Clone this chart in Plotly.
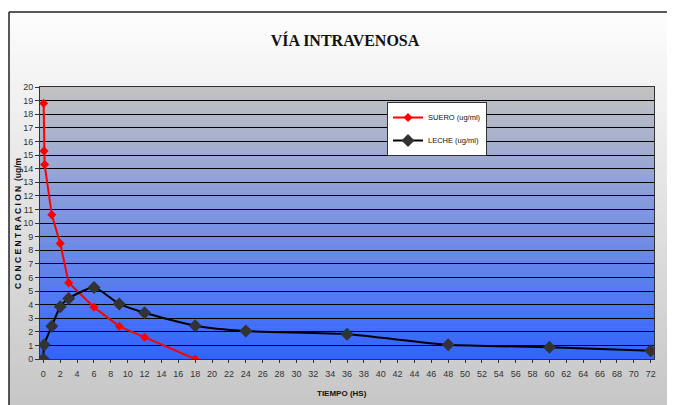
import plotly.graph_objects as go

W, H = 675, 405
OFF = 8  # page body margin
# reference pixel geometry of the plot area
RL, RT, RR, RB = 40, 87, 654, 359
L, T = RL - OFF, RT - OFF
R, B = W - (RR - OFF), H - (RB - OFF)

suero_t = [0.03, 0.08, 0.15, 1, 2, 3, 6, 9, 12, 18]
suero_c = [18.8, 15.3, 14.3, 10.6, 8.5, 5.6, 3.8, 2.4, 1.6, 0.0]

leche_t = [0, 0.1, 1, 2, 3, 6, 9, 12, 18, 24, 36, 48, 60, 72]
leche_c = [0.0, 1.05, 2.4, 3.85, 4.45, 5.25, 4.05, 3.4, 2.45, 2.05, 1.82, 1.05, 0.87, 0.6]

x_ticks = list(range(0, 73, 2))
y_ticks = list(range(0, 21, 1))

pw, ph = RR - RL, RB - RT
def px(x):
    return (x - RL) / pw
def py(y):
    return (RB - y) / ph

def lerp(c1, c2, f):
    return "rgb(%d,%d,%d)" % tuple(round(a + (b - a) * f) for a, b in zip(c1, c2))

shapes = []
# outer frame gradient (white -> light grey)
n = 40
top_px, bot_px = 12, H + 10
for i in range(n):
    y0 = top_px + (bot_px - top_px) * i / n
    y1 = top_px + (bot_px - top_px) * (i + 1) / n
    shapes.append(dict(type="rect", xref="paper", yref="paper", layer="below",
                       x0=px(9), x1=px(W + 10), y0=py(y1 + 0.5), y1=py(y0),
                       fillcolor=lerp((252, 252, 252), (198, 198, 198), i / (n - 1)),
                       line=dict(width=0)))
shapes.append(dict(type="line", xref="paper", yref="paper", layer="below",
                   x0=px(9), x1=px(9), y0=py(H + 10), y1=py(12), line=dict(color="#222", width=1.5)))
shapes.append(dict(type="line", xref="paper", yref="paper", layer="below",
                   x0=px(9), x1=px(W + 10), y0=py(12), y1=py(12), line=dict(color="#222", width=1.5)))
# plot area gradient (grey -> blue)
m = 60
for i in range(m):
    shapes.append(dict(type="rect", xref="x domain", yref="y domain", layer="below",
                       x0=0, x1=1, y0=1 - (i + 1) / m - 0.002, y1=1 - i / m,
                       fillcolor=lerp((194, 194, 194), (50, 100, 255), i / (m - 1)),
                       line=dict(width=0)))

fig = go.Figure()
fig.add_trace(go.Scatter(x=suero_t, y=suero_c, name="SUERO (ug/ml)", mode="lines+markers",
                         line=dict(color="#ff0000", width=2),
                         marker=dict(symbol="diamond", size=7, color="#ff0000"),
                         legendgroup="a"))
fig.add_trace(go.Scatter(x=leche_t, y=leche_c, name="LECHE (ug/ml)", mode="lines+markers",
                         line=dict(color="#000000", width=2, shape="spline", smoothing=0.6),
                         marker=dict(symbol="diamond", size=10, color="#333333"),
                         legendgroup="b"))

narrow = "Liberation Sans Narrow, Arial Narrow, Liberation Sans, Arial"
tickfont = dict(family=narrow, size=9, color="#333")
fig.update_layout(
    width=W, height=H,
    margin=dict(l=L, r=R, t=T, b=B, pad=0),
    paper_bgcolor="white", plot_bgcolor="rgba(0,0,0,0)",
    shapes=shapes,
    showlegend=True,
    legend=dict(x=px(387), y=py(102), xanchor="left", yanchor="top",
                bgcolor="white", bordercolor="#333", borderwidth=1,
                font=dict(family=narrow, size=7.5, color="#111"),
                tracegroupgap=4, traceorder="grouped", itemwidth=30),
    title=dict(text="<b>VÍA INTRAVENOSA</b>", x=px(345), xref="paper", y=1 - (40 - OFF) / H, yref="container",
               xanchor="center", yanchor="middle",
               font=dict(family="Liberation Serif, Times New Roman", size=16, color="#111")),
    xaxis=dict(range=[-0.4, 72.4], tickvals=x_ticks, ticks="outside", ticklen=3, tickcolor="#333",
               showgrid=False, zeroline=False, showline=True, linecolor="#333", linewidth=1,
               mirror=True, tickfont=tickfont, ticklabelstandoff=3),
    yaxis=dict(range=[0, 20], tickvals=y_ticks, ticks="outside", ticklen=4, tickcolor="#333",
               showgrid=True, gridcolor="#000", gridwidth=1, zeroline=False,
               showline=True, linecolor="#333", linewidth=1, mirror=True, tickfont=tickfont),
    annotations=[
        dict(text="<b>TIEMPO (HS)</b>", xref="paper", yref="paper", x=px(342), y=py(393),
             showarrow=False, xanchor="center", yanchor="middle",
             font=dict(family=narrow, size=8, color="#111")),
        dict(text="<b>C O N C E N T R A C I O N  (ug/m</b>", xref="paper", yref="paper",
             x=px(18), y=py(223), textangle=-90, showarrow=False,
             xanchor="center", yanchor="middle",
             font=dict(family=narrow, size=8.5, color="#111")),
    ],
)
fig.write_html("out.html")
